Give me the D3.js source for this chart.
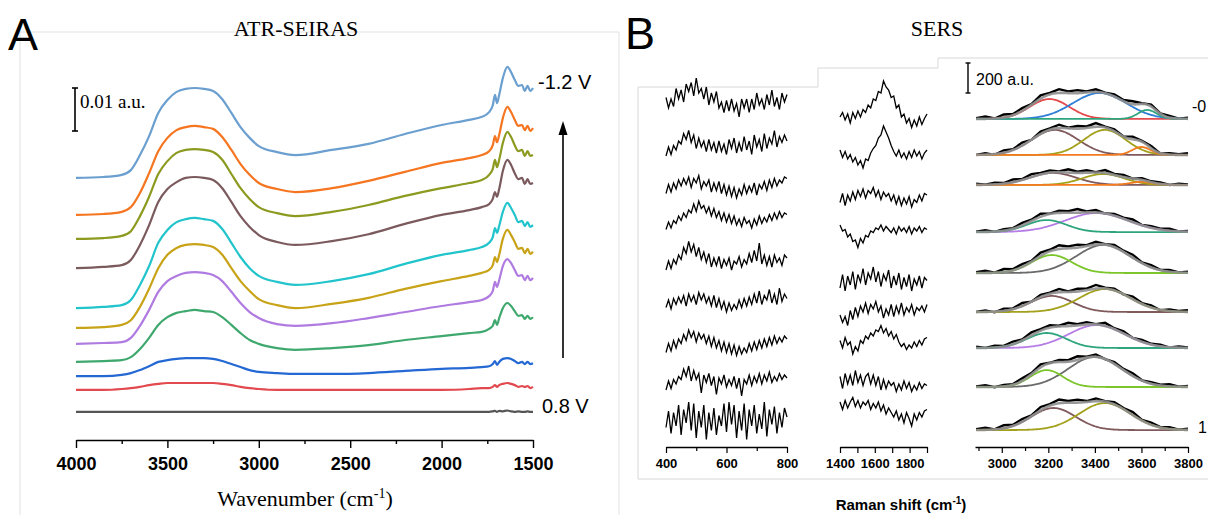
<!DOCTYPE html>
<html>
<head>
<meta charset="utf-8">
<script src="https://cdn.jsdelivr.net/npm/d3@7"></script>
<style>
  body { margin: 0; background: #fff; }
  text { fill: #000; }
</style>
</head>
<body>
<script>
var width = 1208,
    height = 515;

// ---- Panel A: ATR-SEIRAS, absorbance in 10^-3 a.u. (stacked, offsets included)
var wavenumbers = [4000, 3850, 3750, 3700, 3650, 3600, 3550, 3500, 3450, 3400,
                   3350, 3300, 3250, 3200, 3150, 3100, 3050, 3000, 2900, 2800,
                   2600, 2400, 2200, 2000, 1850, 1780, 1740, 1720, 1708, 1697,
                   1685, 1665, 1640, 1620, 1600, 1580, 1560, 1545, 1530, 1515, 1500];
var potentialsA = ["-1.2 V", "", "", "", "", "", "", "", "", "", "0.8 V"];
var seiras = [
  [59.1,59.3,59.8,60.9,64.4,68.8,74.2,77.2,79.1,79.8,80.0,79.8,79.3,77.4,74.2,70.9,68.4,66.5,65.1,64.4,65.6,67.0,69.3,71.4,72.6,73.3,74.4,76.0,78.4,76.5,78.4,82.3,84.9,83.7,81.9,80.5,80.7,79.3,80.5,79.3,80.0],
  [50.5,50.7,51.2,52.3,55.6,60.2,65.3,68.4,70.2,70.9,71.2,70.9,70.5,68.6,65.6,62.3,59.8,57.9,56.5,55.8,56.7,58.4,60.5,62.6,63.7,64.4,65.3,66.7,68.8,67.4,69.1,73.0,75.6,74.4,72.6,71.2,71.4,70.2,71.2,70.0,70.7],
  [44.9,45.1,45.6,46.7,50.2,54.7,60.0,63.0,64.9,65.6,65.8,65.6,65.1,63.3,60.0,56.7,54.2,52.3,50.9,50.2,51.2,52.8,54.9,56.7,57.9,58.6,59.8,61.2,63.3,61.6,63.3,67.2,69.8,68.6,66.7,65.3,65.6,64.2,65.3,64.2,64.4],
  [38.1,38.4,38.8,40.0,43.5,48.1,53.5,56.5,58.1,59.1,59.3,59.1,58.6,56.7,53.5,50.2,47.7,45.8,44.2,43.5,44.4,46.0,48.4,50.5,51.6,52.3,53.0,54.2,55.8,54.7,56.5,60.7,63.3,62.1,60.2,58.8,59.1,57.7,58.8,57.7,57.9],
  [28.8,29.1,29.5,30.7,34.2,38.6,44.0,47.0,48.8,49.5,49.8,49.5,49.1,47.2,44.0,40.7,38.1,36.3,34.9,34.2,35.1,36.7,39.1,41.2,42.3,43.0,44.0,45.3,47.4,46.3,47.9,51.2,53.3,52.1,50.5,48.8,49.1,47.9,48.8,47.7,48.1],
  [24.2,24.4,24.9,26.0,29.1,33.3,38.1,41.2,42.8,43.5,43.7,43.5,43.0,41.2,38.1,35.1,32.8,30.9,29.5,28.8,29.8,31.2,33.3,35.1,36.3,37.0,37.7,38.8,40.7,39.5,41.2,44.9,47.0,45.8,44.2,42.6,42.8,41.6,42.6,41.4,41.9],
  [20.5,20.7,20.9,21.9,24.7,28.4,32.6,35.1,36.3,37.0,37.2,37.0,36.5,35.1,32.6,30.0,27.9,26.5,25.1,24.7,25.3,26.5,27.9,29.3,30.2,30.7,31.6,32.8,34.9,33.7,35.3,38.6,40.2,39.3,37.7,36.3,36.5,35.3,36.3,35.3,35.8],
  [16.3,16.5,16.7,17.4,19.3,21.9,24.9,26.7,27.7,28.1,28.4,28.1,27.9,26.7,24.9,23.0,21.4,20.5,19.5,19.1,19.5,20.2,21.4,22.3,23.0,23.3,24.0,24.7,26.0,24.9,26.5,28.8,30.0,29.3,28.1,27.0,27.2,26.3,27.0,26.3,26.7],
  [13.0,13.0,13.3,13.7,14.4,15.3,16.3,16.7,17.0,17.2,17.2,17.2,17.0,16.5,15.8,15.1,14.4,14.0,13.7,13.5,13.5,13.7,14.2,14.7,14.9,15.1,15.3,15.8,16.5,15.6,16.3,17.0,17.2,17.0,16.5,16.0,16.3,15.8,16.3,15.8,16.0],
  [9.8,9.8,10.0,10.2,10.5,10.9,11.2,11.4,11.4,11.4,11.4,11.4,11.4,11.2,10.9,10.5,10.2,10.0,9.8,9.8,9.8,9.8,9.8,9.8,10.0,10.2,10.2,10.5,10.9,10.5,10.9,11.2,11.4,11.2,10.9,10.5,10.7,10.5,10.7,10.2,10.5],
  [4.7,4.7,4.7,4.7,4.7,4.7,4.7,4.7,4.7,4.7,4.7,4.7,4.7,4.7,4.7,4.7,4.7,4.7,4.7,4.7,4.7,4.7,4.7,4.7,4.7,4.7,4.7,4.8,4.9,4.7,4.9,4.8,5.0,4.8,4.7,4.8,4.7,4.7,4.8,4.7,4.7]
];
var colorsA = ["#6a9fd0", "#f57520", "#8c9a20", "#7b5a5e", "#22c4cc", "#c8a318", "#b07be0", "#3fa86e", "#2468d4", "#e24a4f", "#555555"];
var ticksA = [4000, 3500, 3000, 2500, 2000, 1500];
var minorTicksA = [3750, 3250, 2750, 2250, 1750];

// ---- Panel B: SERS, intensity in a.u. (stacked)
var lowShift = d3.range(49).map(function(i) { return 400 + i * 400 / 48; });
var lowOffsets = [2290, 2000, 1730, 1530, 1250, 960, 690, 450, 190];
var lowTraces = [
  [40,-30,30,-20,100,30,90,10,130,80,140,50,170,70,100,30,110,-10,70,10,80,-30,10,-60,20,-50,30,-50,0,-90,30,-30,30,-60,30,-40,70,-10,30,-40,60,-10,90,-20,40,-40,70,10,60],
  [-60,0,-50,10,-20,40,20,90,50,110,30,80,-10,60,0,40,-30,50,-20,30,-40,40,-30,20,-50,50,-10,60,-40,30,-30,70,-20,40,-50,80,0,50,-30,90,-10,60,20,110,0,70,30,80,40],
  [-40,20,-30,30,-10,50,10,60,20,70,0,60,30,80,-10,40,10,50,-30,30,-20,40,-40,20,-50,10,-60,0,-70,-10,-50,20,-40,10,-30,30,-50,20,-10,40,-20,50,0,60,10,50,30,70,60],
  [-80,-30,-70,-20,-40,10,-20,30,0,50,30,90,40,110,60,80,30,70,10,60,0,40,-20,30,-30,20,-40,10,-50,-10,-60,0,-40,-20,-70,-10,-50,10,-40,0,-30,20,-20,30,-10,40,0,30,20],
  [-70,-10,-60,0,-30,30,0,80,40,120,50,100,20,80,0,50,-20,40,-50,10,-40,20,-60,0,-40,10,-70,-10,-30,20,-50,0,-30,40,-20,60,-10,110,-30,30,-40,20,-50,30,-20,10,-40,30,10],
  [-30,20,-40,30,-10,40,0,50,-20,60,10,50,-10,70,20,60,0,40,-20,50,-30,30,-40,10,-60,0,-50,-10,-40,20,-30,30,-20,40,-10,60,0,80,-10,50,20,90,0,60,-10,100,10,60,30],
  [-60,0,-50,20,-30,30,0,60,20,90,40,80,10,70,30,60,0,50,-20,40,-30,20,-50,10,-60,0,-70,-10,-80,-20,-70,-30,-60,0,-50,10,-40,20,-30,30,-20,40,-10,50,0,40,10,50,30],
  [-70,-10,-60,0,-30,20,0,70,20,90,-10,60,0,40,-90,30,-20,40,-40,20,-100,10,-30,30,-50,0,-40,20,-60,10,-110,0,-30,30,-40,20,-20,40,-30,30,-10,50,-20,20,-10,40,0,30,10],
  [-60,50,-100,40,-50,90,-110,60,-30,110,-80,100,-130,50,-60,90,-140,40,-80,70,-110,20,-50,100,-90,110,-40,90,-130,50,-80,100,-140,60,-50,90,-100,30,-70,110,-120,60,-40,80,-100,40,-60,70,10]
];
var midShift = d3.range(35).map(function(i) { return 1400 + i * 500 / 34; });
var midOffsets = [2200, 1950, 1650, 1430, 1100, 900, 700, 430, 260];
var midTraces = [
  [0,30,-20,20,-40,30,-10,40,0,50,30,80,60,120,110,170,160,240,200,180,130,140,60,80,0,20,-40,-10,-70,-20,-60,0,-50,-10,20],
  [30,-20,20,-30,0,-50,-20,-70,-40,-90,-30,-40,10,40,60,110,130,190,150,110,60,20,-10,30,-20,10,-30,20,-20,30,-10,20,-30,10,30],
  [-20,40,-40,30,-10,50,0,60,20,70,10,60,40,80,20,60,0,50,20,40,-10,30,-30,20,-40,10,-30,20,-50,0,-20,30,-10,40,30],
  [50,10,20,-30,-10,-60,-50,-100,-40,-70,-20,-30,10,0,30,20,50,10,40,20,0,30,-10,40,10,30,0,40,-10,30,10,40,0,30,20],
  [-40,50,-60,40,-20,70,-50,50,0,90,-20,60,20,100,0,70,-30,50,10,80,-40,40,-20,60,-50,30,-30,50,-60,20,-20,40,-40,30,10],
  [-20,-70,-30,-90,10,-50,30,-30,40,0,60,-10,50,20,70,0,40,-40,20,-20,50,-30,40,-10,60,-20,30,0,50,-20,30,10,40,0,50],
  [10,-40,30,-20,0,-80,-30,-60,10,-10,40,20,60,40,80,70,110,60,90,40,70,20,50,0,-30,-10,-50,-20,-40,0,-30,10,-20,20,30],
  [40,-40,60,-10,50,-20,80,0,50,-20,40,60,-10,50,-20,40,-50,20,-40,10,-20,0,-60,-10,-50,10,-40,0,-60,-20,-50,0,-40,-10,-20],
  [40,-10,50,0,40,70,10,50,0,40,20,50,-10,30,0,40,-20,20,-40,0,-30,-60,-20,-80,-40,-100,-30,-70,-120,-40,-80,-30,-60,-20,-10]
];

// O-H stretching fits: baseline, peak centre (cm-1), height (a.u.), sigma (cm-1)
var highShift = d3.range(24).map(function(i) { return 2890 + i * 910 / 23; });
var fitBase = [2187, 1947, 1747, 1433, 1160, 900, 660, 400, 113];
var fitCentres = [[3205, 3420, 3625], [3228, 3443, 3600], [3220, 3436, 3600], [3408, 3193], [3436, 3215], [3215, 3443], [3408, 3193], [3400, 3193], [3222, 3443]];
var fitHeights = [[133, 173, 60], [167, 167, 53], [80, 73, 20], [127, 80], [187, 120], [107, 153], [153, 100], [200, 113], [147, 180]];
var fitSigmas = [[85, 115, 40], [100, 90, 40], [100, 90, 50], [135, 85], [115, 85], [90, 110], [120, 85], [115, 70], [95, 110]];
var fitColors = [["#e44a4d", "#2f7ed8", "#2fa57f"], ["#80595b", "#a3a01b", "#f27b1f"], ["#80595b", "#a3a01b", "#f27b1f"],
                 ["#b67de6", "#2fa57f"], ["#6b6b6b", "#7cc52b"], ["#80595b", "#a3a01b"], ["#b67de6", "#2fa57f"],
                 ["#6b6b6b", "#7cc52b"], ["#80595b", "#a3a01b"]];
var fitNoise = [
  [5,15,0,20,8,18,5,22,10,25,12,20,6,18,3,15,8,20,5,14,2,12,0,8],
  [0,10,-5,15,5,20,0,15,8,22,4,18,10,25,5,12,0,18,6,15,-3,10,4,12],
  [8,0,12,4,18,6,20,10,15,5,22,8,16,2,20,6,14,0,12,5,10,-2,8,3],
  [3,12,-2,10,4,16,8,20,2,14,10,24,6,16,0,12,8,18,2,10,6,14,0,6]
];

var svg = d3.select("body").append("svg")
            .attr("width", width)
            .attr("height", height);

var sans = "'Liberation Sans', Arial, sans-serif",
    serif = "'Liberation Serif', 'Times New Roman', serif";

// frames
svg.append("path").attr("d", "M20,515V32H619V515")
   .attr("fill", "none").attr("stroke", "#e2e2e2").attr("stroke-width", 1);
svg.append("path").attr("d", "M638,479V87H818V68H938V58H1208M638,479H1208")
   .attr("fill", "none").attr("stroke", "#d8d8d8").attr("stroke-width", 1);

// ========== Panel A
var xA = d3.scaleLinear().domain([4000, 1500]).range([76, 533]);
var yA = d3.scaleLinear().domain([0, 100]).range([432, 2]);

var lineA = d3.line()
              .x(function(d, i) { return xA(wavenumbers[i]); })
              .y(function(d) { return yA(d); })
              .curve(d3.curveMonotoneX);

svg.append("g").selectAll("path")
   .data(seiras)
   .enter()
   .append("path")
   .attr("d", lineA)
   .attr("fill", "none")
   .attr("stroke", function(d, i) { return colorsA[i]; })
   .attr("stroke-width", 2.2)
   .attr("stroke-linejoin", "round");

var gA = svg.append("g").attr("transform", "translate(0,440)");
gA.call(d3.axisBottom(xA).tickValues(ticksA).tickFormat(d3.format("d")).tickSize(8).tickSizeOuter(0));
gA.append("g").call(d3.axisBottom(xA).tickValues(minorTicksA).tickFormat("").tickSize(4).tickSizeOuter(0))
  .select(".domain").remove();
gA.selectAll(".domain").attr("stroke-width", 1.6);
gA.selectAll(".tick line").attr("stroke-width", 1.4);
gA.selectAll(".tick text").attr("y", 17)
  .style("font-family", sans).style("font-size", "18px").style("font-weight", "bold").attr("fill", "#000");

svg.append("text").attr("x", 8).attr("y", 50)
   .style("font-family", sans).style("font-size", "45px").text("A");
svg.append("text").attr("x", 296).attr("y", 36).attr("text-anchor", "middle")
   .style("font-family", serif).style("font-size", "22px").text("ATR-SEIRAS");

var tA = svg.append("text").attr("x", 305).attr("y", 506).attr("text-anchor", "middle")
   .style("font-family", serif).style("font-size", "22px");
tA.append("tspan").text("Wavenumber (cm");
tA.append("tspan").attr("dy", -8).style("font-size", "14px").text("-1");
tA.append("tspan").attr("dy", 8).text(")");

// scale bar 0.01 a.u. = 10 units
var barA = svg.append("g").attr("stroke", "#000").attr("stroke-width", 1.6);
barA.append("line").attr("x1", 75).attr("x2", 75).attr("y1", yA(80)).attr("y2", yA(70));
barA.append("line").attr("x1", 72).attr("x2", 78).attr("y1", yA(80)).attr("y2", yA(80));
barA.append("line").attr("x1", 72).attr("x2", 78).attr("y1", yA(70)).attr("y2", yA(70));
svg.append("text").attr("x", 80).attr("y", 108)
   .style("font-family", serif).style("font-size", "19px").text("0.01 a.u.");

svg.append("text").attr("x", 538).attr("y", 89)
   .style("font-family", sans).style("font-size", "20px").text(potentialsA[0]);
svg.append("text").attr("x", 542).attr("y", 413)
   .style("font-family", sans).style("font-size", "20px").text(potentialsA[10]);

svg.append("line").attr("x1", 563).attr("x2", 563).attr("y1", 358).attr("y2", 132)
   .attr("stroke", "#000").attr("stroke-width", 1.6);
svg.append("path").attr("d", "M563,121L558.5,135L567.5,135Z").attr("fill", "#000");

// ========== Panel B
svg.append("text").attr("x", 625).attr("y", 49)
   .style("font-family", sans).style("font-size", "45px").text("B");
svg.append("text").attr("x", 937).attr("y", 36).attr("text-anchor", "middle")
   .style("font-family", serif).style("font-size", "22px").text("SERS");

var yB = d3.scaleLinear().domain([0, 2600]).range([447, 57]);
var xB1 = d3.scaleLinear().domain([400, 800]).range([666, 787]);
var xB2 = d3.scaleLinear().domain([1400, 1900]).range([840, 927]);
var xB3 = d3.scaleLinear().domain([2885, 3800]).range([975, 1188]);

function noisy(xs, xScale, offsets) {
  return d3.line()
           .x(function(d, i) { return xScale(xs[i]); })
           .y(function(d, i) { return yB(d + offsets); });
}

svg.append("g").selectAll("path")
   .data(lowTraces)
   .enter()
   .append("path")
   .attr("d", function(d, i) { return noisy(lowShift, xB1, lowOffsets[i])(d); })
   .attr("fill", "none").attr("stroke", "#000").attr("stroke-width", 1.3);

svg.append("g").selectAll("path")
   .data(midTraces)
   .enter()
   .append("path")
   .attr("d", function(d, i) { return noisy(midShift, xB2, midOffsets[i])(d); })
   .attr("fill", "none").attr("stroke", "#000").attr("stroke-width", 1.3);

// fitted O-H band
var fine = d3.range(2890, 3801, 5);
function gauss(w, c, h, s) { return h * Math.exp(-(w - c) * (w - c) / (2 * s * s)); }
function envelope(r, w) {
  var sum = 0;
  fitCentres[r].forEach(function(c, k) { sum += gauss(w, c, fitHeights[r][k], fitSigmas[r][k]); });
  return sum;
}

var lineFine = d3.line().x(function(d) { return xB3(d[0]); }).y(function(d) { return yB(d[1]); }).curve(d3.curveMonotoneX);

fitBase.forEach(function(base, r) {
  var g = svg.append("g");
  var noise = fitNoise[r % fitNoise.length];
  var data = highShift.map(function(w, i) { return [w, base + envelope(r, w) + noise[i]]; });
  g.append("path").attr("d", d3.line().x(function(d) { return xB3(d[0]); }).y(function(d) { return yB(d[1]); })(data))
   .attr("fill", "none").attr("stroke", "#000").attr("stroke-width", 2.4);
  fitCentres[r].forEach(function(c, k) {
    var comp = fine.map(function(w) { return [w, base + gauss(w, c, fitHeights[r][k], fitSigmas[r][k])]; });
    g.append("path").attr("d", lineFine(comp))
     .attr("fill", "none").attr("stroke", fitColors[r][k]).attr("stroke-width", 1.8);
  });
  var env = fine.map(function(w) { return [w, base + envelope(r, w)]; });
  g.append("path").attr("d", lineFine(env))
   .attr("fill", "none").attr("stroke", "#8e8e8e").attr("stroke-width", 2.6).attr("stroke-opacity", 0.9);
});

function ramanAxis(scale, major, minor, labelled) {
  var g = svg.append("g").attr("transform", "translate(0,447)");
  g.call(d3.axisBottom(scale).tickValues(major)
          .tickFormat(function(d) { return labelled.indexOf(d) >= 0 ? d : ""; })
          .tickSize(6).tickSizeOuter(0));
  g.append("g").call(d3.axisBottom(scale).tickValues(minor).tickFormat("").tickSize(4).tickSizeOuter(0))
   .select(".domain").remove();
  g.selectAll(".domain").attr("stroke-width", 1.4);
  g.selectAll(".tick line").attr("stroke-width", 1.2);
  g.selectAll(".tick text").attr("y", 12)
   .style("font-family", sans).style("font-size", "13px").style("font-weight", "bold").attr("fill", "#000");
}
ramanAxis(xB1, [400, 600, 800], [500, 700], [400, 600, 800]);
ramanAxis(xB2, [1400, 1500, 1600, 1700, 1800, 1900], [], [1400, 1600, 1800]);
ramanAxis(xB3, [3000, 3200, 3400, 3600, 3800], [2900, 3100, 3300, 3500, 3700], [3000, 3200, 3400, 3600, 3800]);

var tB = svg.append("text").attr("x", 901).attr("y", 510).attr("text-anchor", "middle")
   .style("font-family", sans).style("font-size", "15px").style("font-weight", "bold");
tB.append("tspan").text("Raman shift (cm");
tB.append("tspan").attr("dy", -6).style("font-size", "10px").text("-1");
tB.append("tspan").attr("dy", 6).text(")");

// scale bar 200 a.u.
var barB = svg.append("g").attr("stroke", "#000").attr("stroke-width", 1.4);
barB.append("line").attr("x1", 968).attr("x2", 968).attr("y1", yB(2560)).attr("y2", yB(2360));
barB.append("line").attr("x1", 965.5).attr("x2", 970.5).attr("y1", yB(2560)).attr("y2", yB(2560));
barB.append("line").attr("x1", 965.5).attr("x2", 970.5).attr("y1", yB(2360)).attr("y2", yB(2360));
svg.append("text").attr("x", 976).attr("y", 85)
   .style("font-family", sans).style("font-size", "16px").text("200 a.u.");

// potential labels, cut by the figure edge in the source
svg.append("text").attr("x", 1192).attr("y", 112)
   .style("font-family", sans).style("font-size", "16px").text("-0");
svg.append("text").attr("x", 1198).attr("y", 433)
   .style("font-family", sans).style("font-size", "16px").text("1");
</script>
</body>
</html>
